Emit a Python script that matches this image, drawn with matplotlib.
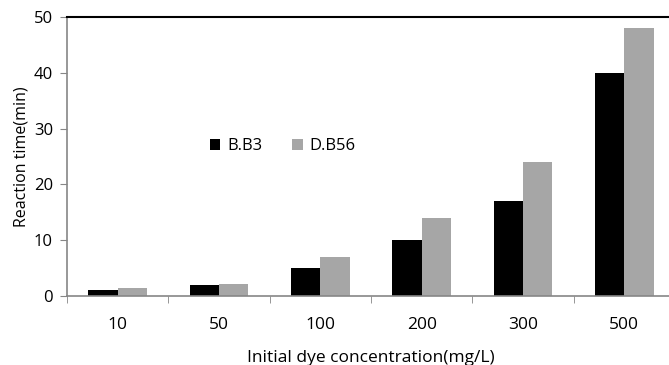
import matplotlib.pyplot as plt
import numpy as np

categories = ['10', '50', '100', '200', '300', '500']
bb3 = [1, 2, 5, 10, 17, 40]
db56 = [1.5, 2.2, 7, 14, 24, 48]

plt.rcParams['font.family'] = ['Open Sans', 'DejaVu Sans']

fig = plt.figure(figsize=(6.69, 3.65), dpi=100)
ax = fig.add_axes([0.1, 0.189, 0.909, 0.764])

x = np.arange(len(categories))
w = 0.29
ax.bar(x - w / 2, bb3, w, color='black', label='B.B3')
ax.bar(x + w / 2, db56, w, color='#a6a6a6', label='D.B56')

ax.set_xlim(-0.5, len(categories) - 0.5)
ax.set_ylim(0, 50)
ax.set_yticks(range(0, 51, 10))
ax.set_xticks(x)
ax.set_xticklabels(categories)
ax.set_xticks(np.arange(-0.5, len(categories), 1), minor=True)
ax.tick_params(axis='x', which='major', length=0, pad=15, labelsize=12.5)
ax.tick_params(axis='x', which='minor', length=5, color='#868686', direction='out')
ax.tick_params(axis='y', length=5, color='#868686', labelsize=12, pad=5)

for s in ['left', 'bottom']:
    ax.spines[s].set_color('#868686')
    ax.spines[s].set_linewidth(1.2)
ax.spines['right'].set_visible(False)
ax.spines['top'].set_color('black')
ax.spines['top'].set_linewidth(1.5)

ax.set_ylabel('Reaction time(min)', fontsize=11.5, labelpad=3)
ax.set_xlabel('Initial dye concentration(mg/L)', fontsize=12.5, labelpad=12)

ax.legend(loc='upper left', bbox_to_anchor=(0.21, 0.62), ncol=2, frameon=False,
          fontsize=12, handlelength=0.65, handleheight=0.65, handletextpad=0.4,
          columnspacing=1.8)

fig.savefig('out.png', dpi=100)
